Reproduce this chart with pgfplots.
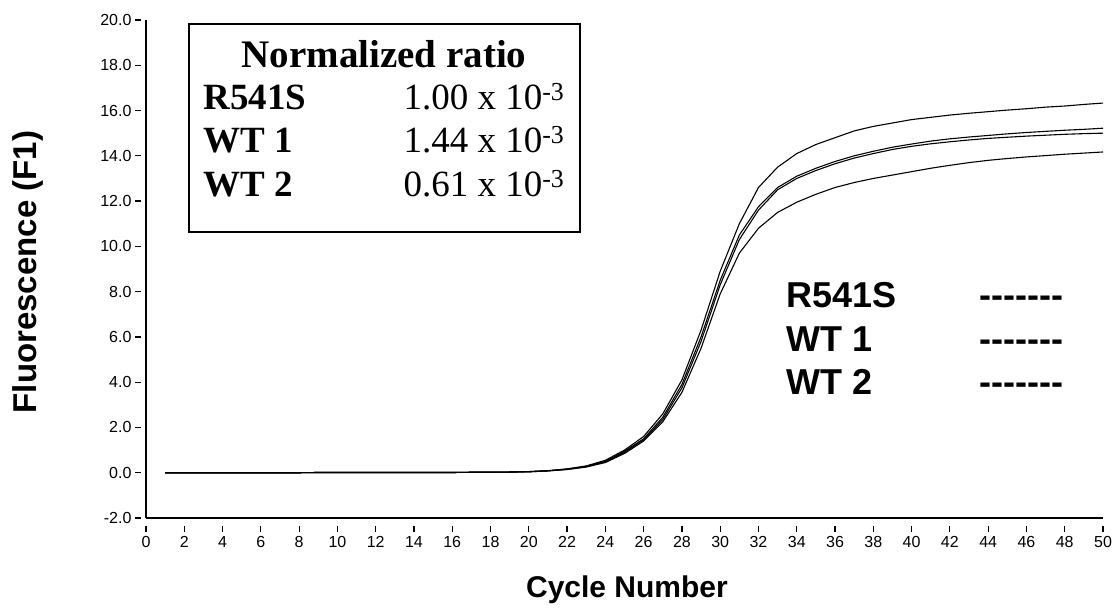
\documentclass[border=0pt]{standalone}
\usepackage{pgfplots}
\pgfplotsset{compat=1.18}
\usepackage{pgfplotstable}
\usepackage{fontspec}
\setmainfont{Liberation Sans}
\newfontfamily\seriffont{Liberation Serif}

\pgfplotstableread{
x A B C D
1 0 0 0 0
2 0 0 0 0
3 0 0 0 0
4 0 0 0 0
5 0 0 0 0
6 0 0 0 0
7 0 0 0 0
8 0 0 0 0
9 0.01 0.01 0.01 0.01
10 0.01 0.01 0.01 0.01
11 0.01 0.01 0.01 0.01
12 0.01 0.01 0.01 0.01
13 0.01 0.01 0.01 0.01
14 0.01 0.01 0.01 0.01
15 0.01 0.01 0.01 0.01
16 0.01 0.01 0.01 0.01
17 0.02 0.02 0.02 0.02
18 0.02 0.02 0.02 0.02
19 0.03 0.03 0.03 0.03
20 0.05 0.05 0.04 0.04
21 0.09 0.09 0.08 0.08
22 0.17 0.16 0.15 0.14
23 0.30 0.28 0.27 0.25
24 0.55 0.50 0.48 0.45
25 1.00 0.95 0.90 0.85
26 1.60 1.50 1.45 1.40
27 2.60 2.45 2.35 2.25
28 4.10 3.90 3.75 3.55
29 6.30 6.00 5.80 5.50
30 8.90 8.50 8.30 7.90
31 11.00 10.50 10.30 9.70
32 12.60 11.75 11.60 10.80
33 13.50 12.60 12.50 11.50
34 14.10 13.10 13.00 11.95
35 14.50 13.45 13.35 12.30
36 14.80 13.75 13.65 12.60
37 15.10 14.00 13.90 12.82
38 15.30 14.20 14.10 13.00
39 15.45 14.38 14.28 13.15
40 15.60 14.52 14.42 13.30
41 15.70 14.65 14.53 13.45
42 15.80 14.75 14.62 13.58
43 15.88 14.83 14.70 13.70
44 15.95 14.90 14.77 13.80
45 16.02 14.97 14.82 13.88
46 16.08 15.03 14.87 13.95
47 16.15 15.08 14.91 14.01
48 16.20 15.13 14.95 14.07
49 16.27 15.17 14.98 14.12
50 16.33 15.22 15.00 14.17
}\qpcr

\begin{document}
\begin{tikzpicture}[x=1pt,y=1pt]
\path[use as bounding box] (0,0) rectangle (1114,610);
\begin{axis}[
  at={(146pt,92pt)}, anchor=south west,
  scale only axis, width=957pt, height=498pt,
  xmin=0, xmax=50, ymin=-2, ymax=20,
  axis lines*=left,
  axis line style={line width=1.8pt},
  xtick={0,2,...,50},
  ytick={-2,0,...,20},
  tick align=outside,
  major tick length=6pt,
  xtick style={line width=1.2pt, black, yshift=-8pt},
  ytick style={line width=1.2pt, black, xshift=-5pt},
  tick label style={font=\fontsize{16}{16}\selectfont},
  xticklabel style={anchor=north, yshift=-8pt, text height=11.5pt, text depth=0pt},
  yticklabel style={xshift=-5pt, /pgf/number format/.cd, fixed, fixed zerofill, precision=1},
  /pgf/number format/assume math mode=true,
  clip=false,
]
\addplot[black, line width=1.1pt] table[x=x, y=A] {\qpcr};
\addplot[black, line width=1.1pt] table[x=x, y=B] {\qpcr};
\addplot[black, line width=1.1pt] table[x=x, y=C] {\qpcr};
\addplot[black, line width=1.1pt] table[x=x, y=D] {\qpcr};
\end{axis}

% axis titles
\node[rotate=90, font=\fontsize{33}{33}\selectfont\bfseries] at (28,338) {Fluorescence (F1)};
\node[anchor=base, font=\fontsize{30}{30}\selectfont\bfseries] at (627,12) {Cycle Number};

% inset box
\draw[line width=2pt] (189,586) rectangle (580,378);
\node[anchor=base, font=\seriffont\fontsize{39}{39}\selectfont\bfseries] at (384,542) {Normalized ratio};
\node[anchor=base west, font=\seriffont\fontsize{37}{37}\selectfont\bfseries] at (200,500) {R541S};
\node[anchor=base west, font=\seriffont\fontsize{37}{37}\selectfont\bfseries] at (200,457) {WT 1};
\node[anchor=base west, font=\seriffont\fontsize{37}{37}\selectfont\bfseries] at (200,413) {WT 2};
\node[anchor=base west, font=\seriffont\fontsize{37}{37}\selectfont] at (400,500) {1.00 x 10\textsuperscript{-3}};
\node[anchor=base west, font=\seriffont\fontsize{37}{37}\selectfont] at (400,457) {1.44 x 10\textsuperscript{-3}};
\node[anchor=base west, font=\seriffont\fontsize{37}{37}\selectfont] at (400,413) {0.61 x 10\textsuperscript{-3}};

% right legend
\node[anchor=base west, font=\fontsize{36}{36}\selectfont\bfseries] at (783,302) {R541S};
\node[anchor=base west, font=\fontsize{36}{36}\selectfont\bfseries] at (783,258) {WT 1};
\node[anchor=base west, font=\fontsize{36}{36}\selectfont\bfseries] at (783,215) {WT 2};
\node[anchor=base west, font=\fontsize{36}{36}\selectfont\bfseries, inner sep=0pt] at (979,302) {-{}-{}-{}-{}-{}-{}-};
\node[anchor=base west, font=\fontsize{36}{36}\selectfont\bfseries, inner sep=0pt] at (979,258) {-{}-{}-{}-{}-{}-{}-};
\node[anchor=base west, font=\fontsize{36}{36}\selectfont\bfseries, inner sep=0pt] at (979,215) {-{}-{}-{}-{}-{}-{}-};
\end{tikzpicture}
\end{document}
